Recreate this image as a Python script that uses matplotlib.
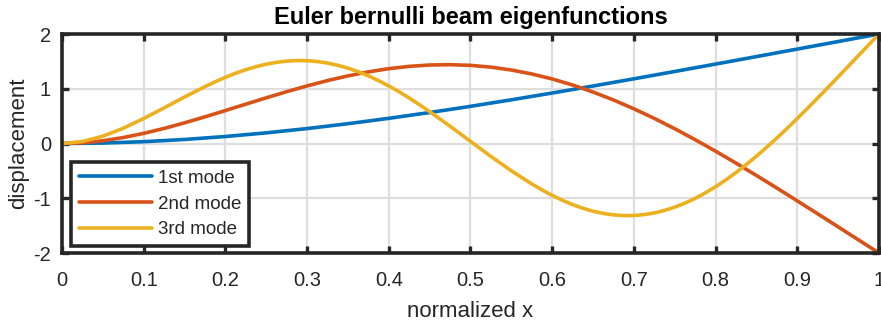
import matplotlib
matplotlib.use("Agg")
import matplotlib.pyplot as plt

# cantilever beam mode shapes, tip normalised to +/-2
x1 = [0.00, 0.05, 0.10, 0.15, 0.20, 0.25, 0.30, 0.35, 0.40, 0.45, 0.50,
      0.55, 0.60, 0.65, 0.70, 0.75, 0.80, 0.85, 0.90, 0.95, 1.00]

mode1 = [0.0000, 0.0086, 0.0335, 0.0737, 0.1277, 0.1946, 0.2730, 0.3617,
         0.4598, 0.5659, 0.6790, 0.7982, 0.9223, 1.0504, 1.1818, 1.3155,
         1.4510, 1.5875, 1.7248, 1.8624, 2.0000]

x2 = [0.000, 0.025, 0.050, 0.075, 0.100, 0.125, 0.150, 0.175, 0.200,
      0.225, 0.250, 0.275, 0.300, 0.325, 0.350, 0.375, 0.400, 0.425,
      0.450, 0.475, 0.500, 0.525, 0.550, 0.575, 0.600, 0.625, 0.650,
      0.675, 0.700, 0.725, 0.750, 0.775, 0.800, 0.825, 0.850, 0.875,
      0.900, 0.925, 0.950, 0.975, 1.000]

mode2 = [0.0000, 0.0132, 0.0507, 0.1091, 0.1853, 0.2758, 0.3776, 0.4874,
         0.6021, 0.7188, 0.8345, 0.9465, 1.0523, 1.1493, 1.2353, 1.3085,
         1.3669, 1.4092, 1.4339, 1.4402, 1.4273, 1.3948, 1.3426, 1.2704,
         1.1790, 1.0687, 0.9404, 0.7952, 0.6341, 0.4585, 0.2700, 0.0699,
         -0.1401, -0.3583, -0.5833, -0.8135, -1.0475, -1.2841, -1.5222,
         -1.7610, -2.0000]

# denser sampling around the bends of the 3rd mode
x3 = [0.000, 0.025, 0.050, 0.075, 0.100, 0.125, 0.150, 0.175,
      0.1875, 0.200, 0.2125, 0.225, 0.2375, 0.250, 0.2625, 0.275,
      0.2875, 0.300, 0.3125, 0.325, 0.3375, 0.350, 0.3625, 0.375,
      0.3875, 0.400, 0.4125, 0.425,
      0.450, 0.475, 0.500, 0.525, 0.550, 0.575,
      0.5875, 0.600, 0.6125, 0.625, 0.6375, 0.650, 0.6625, 0.675,
      0.6875, 0.700, 0.7125, 0.725, 0.7375, 0.750, 0.7625, 0.775,
      0.7875, 0.800, 0.8125, 0.825, 0.8375, 0.850, 0.8625, 0.875,
      0.8875, 0.900, 0.9125, 0.925, 0.9375, 0.950, 0.9625, 0.975,
      1.000]

mode3 = [0.0000, 0.0360, 0.1341, 0.2791, 0.4561, 0.6509, 0.8496, 1.0395,
         1.1274, 1.2090, 1.2830, 1.3482, 1.4039, 1.4490, 1.4829, 1.5051,
         1.5150, 1.5125, 1.4973, 1.4694, 1.4289, 1.3761, 1.3115, 1.2354,
         1.1486, 1.0519, 0.9459, 0.8319,
         0.5835, 0.3160, 0.0394, -0.2357, -0.4986, -0.7391,
         -0.8478, -0.9475, -1.0371, -1.1156, -1.1822, -1.2361, -1.2768,
         -1.3037, -1.3165, -1.3149, -1.2986, -1.2678, -1.2225, -1.1629,
         -1.0893, -1.0023, -0.9022, -0.7897, -0.6657, -0.5307, -0.3857,
         -0.2317, -0.0694, 0.1001, 0.2759, 0.4570, 0.6425, 0.8316,
         1.0233, 1.2170, 1.4119, 1.6077,
         2.0000]

labels = ['1st mode', '2nd mode', '3rd mode']
colors = ['#0072BD', '#D95319', '#EDB120']
xticks = [0, 0.1, 0.2, 0.3, 0.4, 0.5, 0.6, 0.7, 0.8, 0.9, 1]
xticklabels = ['0', '0.1', '0.2', '0.3', '0.4', '0.5', '0.6', '0.7',
               '0.8', '0.9', '1']
yticks = [-2, -1, 0, 1, 2]

plt.rcParams['font.family'] = ['Liberation Sans', 'DejaVu Sans']
plt.rcParams['axes.unicode_minus'] = False
text_col = '#262626'

fig = plt.figure(figsize=(8.81, 3.23), dpi=100)
ax = fig.add_axes([0.0704, 0.2167, 0.9273, 0.678])

line_kw = dict(lw=2.6, solid_joinstyle='round', solid_capstyle='round')
ax.plot(x1, mode1, color=colors[0], label=labels[0], **line_kw)
ax.plot(x2, mode2, color=colors[1], label=labels[1], **line_kw)
ax.plot(x3, mode3, color=colors[2], label=labels[2], **line_kw)

ax.set_xlim(0, 1)
ax.set_ylim(-2, 2)
ax.set_xticks(xticks)
ax.set_xticklabels(xticklabels)
ax.set_yticks(yticks)
ax.grid(True, color='#dedede', lw=1.6)
ax.set_axisbelow(True)

for sp in ax.spines.values():
    sp.set_linewidth(2.6)
    sp.set_color(text_col)
ax.tick_params(direction='in', length=5, width=2.4, color=text_col,
               labelsize=14.5, labelcolor=text_col, top=True, right=True)
ax.tick_params(axis='x', pad=13)
ax.tick_params(axis='y', pad=8)

ax.set_title('Euler bernulli beam eigenfunctions', fontsize=17,
             fontweight='bold', color='black', pad=7)
ax.set_xlabel('normalized x', fontsize=16, color=text_col, labelpad=8)
ax.set_ylabel('displacement', fontsize=16, color=text_col, labelpad=3)

leg = ax.legend(loc='lower left', bbox_to_anchor=(0.0065, 0.015),
                fontsize=13.5, handlelength=3.9, handletextpad=0.35,
                borderpad=0.4, labelspacing=0.46, borderaxespad=0.2,
                fancybox=False, framealpha=1, edgecolor=text_col)
leg.get_frame().set_linewidth(2.6)
for t in leg.get_texts():
    t.set_color(text_col)

plt.savefig('out.png', dpi=100)
plt.close()
